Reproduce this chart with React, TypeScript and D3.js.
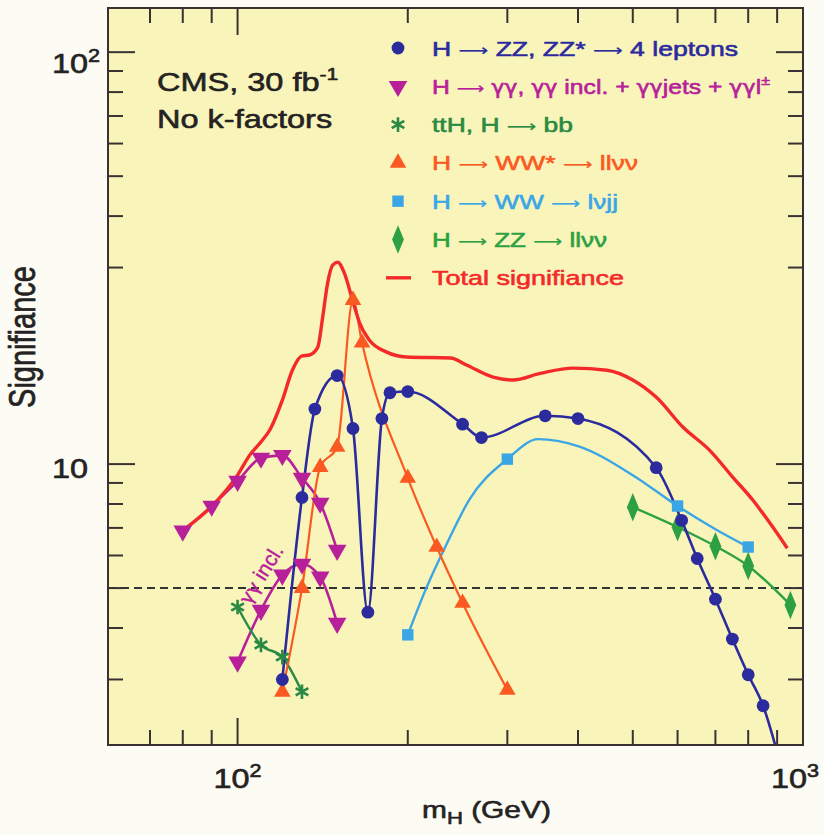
import React from 'react';
import * as d3 from 'd3';

const WIDTH = 824;
const HEIGHT = 835;
const PLOT = { left: 108, right: 803, top: 8, bottom: 745 };

// Axis domains (log-log)
const massDomain: [number, number] = [59, 1000];
const sigDomain: [number, number] = [2.08, 128];

const massMajorTicks = [100, 1000];
const massMinorTicks = [70, 80, 90, 200, 300, 400, 500, 600, 700, 800, 900];
const sigMajorTicks = [10, 100];
const sigMinorTicks = [3, 4, 5, 6, 7, 8, 9, 30, 40, 50, 60, 70, 80, 90];
const discoveryLevel = 5;

// [m_H (GeV), significance]
const zz4l: [number, number][] = [
  [120, 3.0], [130, 8.3], [137, 13.6], [150, 16.4], [160, 12.2], [170, 4.37],
  [180, 12.9], [186, 14.9], [200, 15.0], [250, 12.5], [270, 11.6], [350, 13.1],
  [400, 12.9], [550, 9.8], [610, 7.3], [650, 5.9], [700, 4.7], [750, 3.76],
  [800, 3.08], [850, 2.59], [900, 2.0],
];
const gammaGamma: [number, number][] = [
  [80, 6.88], [90, 7.91], [100, 9.09], [110, 10.34], [120, 10.5], [130, 9.25],
  [140, 8.04], [150, 6.18],
];
const gammaGammaIncl: [number, number][] = [
  [100, 3.31], [110, 4.42], [120, 5.38], [130, 5.72], [140, 5.32], [150, 4.11],
];
const ttHbb: [number, number][] = [
  [100, 4.5], [110, 3.64], [120, 3.4], [130, 2.8],
];
const wwLlvv: [number, number][] = [
  [120, 2.8], [130, 5.0], [140, 9.83], [150, 11.0], [160, 25.0], [166, 19.7],
  [200, 9.25], [225, 6.29], [250, 4.6], [300, 2.83],
];
const wwLvjj: [number, number][] = [
  [200, 3.85], [215, 4.95], [235, 6.45], [257, 8.2], [300, 10.28], [340, 11.5],
  [400, 11.06], [500, 9.4], [600, 7.91], [700, 6.95], [800, 6.29],
];
const wwLvjjMarked = [200, 300, 600, 800];
const zzLlvv: [number, number][] = [
  [500, 7.86], [600, 7.03], [700, 6.32], [800, 5.66], [950, 4.55],
];
const total: [number, number][] = [
  [80, 6.9], [90, 7.9], [100, 9.4], [105, 10.5], [110.7, 11.44], [114, 12.1],
  [120, 14.3], [125, 16.9], [130, 18.3], [134, 18.4], [138.6, 19.2], [141.4, 22.7],
  [144.3, 27.5], [147.3, 30.4], [150.3, 30.9], [154.6, 29.0], [159.7, 25.0],
  [164.4, 22.0], [171, 20.0], [183.5, 18.7], [199, 18.2], [238, 18.1], [254, 17.4],
  [283, 16.26], [307, 16.0], [343, 16.6], [392, 17.1], [450, 16.9], [500, 16.0],
  [551, 14.5], [613, 12.3], [684, 10.8], [751, 9.3], [815, 8.18], [874, 7.19],
  [938, 6.25],
];

const FONT = '"Liberation Sans", Arial, Helvetica, sans-serif';
const SYMBOL_FONT = '"DejaVu Sans", sans-serif';
const SX = 1.3;

const COLORS = {
  bg: '#fcfcf4',
  plot: '#f9f5ba',
  frame: '#3a3232',
  ink: '#242222',
  zz4l: '#2b2b9e',
  gg: '#b8209a',
  tth: '#2a8a44',
  wwllvv: '#fa5a22',
  wwlvjj: '#3aa6e6',
  zzllvv: '#2ea044',
  total: '#f42a2a',
};

type MarkerKind = 'circle' | 'triDown' | 'asterisk' | 'triUp' | 'square' | 'diamond';

function Marker({ kind, cx, cy, color }: { kind: MarkerKind; cx: number; cy: number; color: string }) {
  const t = `translate(${cx},${cy})`;
  switch (kind) {
    case 'circle':
      return <circle cx={cx} cy={cy} r={6.4} fill={color} />;
    case 'triDown':
      return <path transform={`${t} rotate(180)`} d={d3.symbol(d3.symbolTriangle, 150)()!} fill={color} />;
    case 'triUp':
      return <path transform={t} d={d3.symbol(d3.symbolTriangle, 120)()!} fill={color} />;
    case 'asterisk':
      return <path transform={t} d={d3.symbol(d3.symbolAsterisk, 150)()!} fill="none" stroke={color} strokeWidth={2.6} />;
    case 'square':
      return <path transform={t} d={d3.symbol(d3.symbolSquare, 130)()!} fill={color} />;
    case 'diamond':
      return <path transform={`${t} scale(1.0,1.4)`} d={d3.symbol(d3.symbolDiamond, 120)()!} fill={color} />;
  }
}

// Splits a label into runs so arrows and Greek letters use a font with proper glyphs.
function RichText({ text, size }: { text: string; size: number }) {
  const parts: React.ReactNode[] = [];
  let buf = '';
  const flush = (k: number) => {
    if (buf) parts.push(<tspan key={`p${k}`}>{buf}</tspan>);
    buf = '';
  };
  Array.from(text).forEach((ch, k) => {
    if (ch === '→') {
      flush(k);
      parts.push(
        <tspan key={`a${k}`} fontFamily={SYMBOL_FONT} fontSize={size * 0.78} strokeWidth={0.2}>
          {'⟶'}
        </tspan>
      );
    } else if (ch === 'γ') {
      flush(k);
      parts.push(
        <tspan key={`g${k}`} fontFamily={SYMBOL_FONT} fontSize={size * 0.9}>
          {ch}
        </tspan>
      );
    } else if (ch === '±') {
      flush(k);
      parts.push(
        <tspan key={`s${k}`} fontSize={size * 0.65} dy={-size * 0.4}>
          {ch}
        </tspan>
      );
    } else {
      buf += ch;
    }
  });
  flush(9999);
  return <>{parts}</>;
}

// legend rows: marker, colour, label and the run length of each label
const legendRows: { kind: MarkerKind | 'line'; color: string; text: string; width: number }[] = [
  { kind: 'circle', color: COLORS.zz4l, text: 'H → ZZ, ZZ* → 4 leptons', width: 306 },
  { kind: 'triDown', color: COLORS.gg, text: 'H → γγ, γγ incl. + γγjets + γγl±', width: 338 },
  { kind: 'asterisk', color: COLORS.tth, text: 'ttH, H → bb', width: 141 },
  { kind: 'triUp', color: COLORS.wwllvv, text: 'H → WW* → llνν', width: 206 },
  { kind: 'square', color: COLORS.wwlvjj, text: 'H → WW → lνjj', width: 186 },
  { kind: 'diamond', color: COLORS.zzllvv, text: 'H → ZZ → llνν', width: 175 },
  { kind: 'line', color: COLORS.total, text: 'Total signifiance', width: 192 },
];

export default function App() {
  const x = d3.scaleLog().domain(massDomain).range([PLOT.left, PLOT.right]);
  const y = d3.scaleLog().domain(sigDomain).range([PLOT.bottom, PLOT.top]);
  const line = d3
    .line<[number, number]>()
    .x((d) => x(d[0]))
    .y((d) => y(d[1]))
    .curve(d3.curveMonotoneX);

  const series: { data: [number, number][]; color: string; width: number; kind: MarkerKind; marked?: number[] }[] = [
    { data: gammaGamma, color: COLORS.gg, width: 2.6, kind: 'triDown' },
    { data: gammaGammaIncl, color: COLORS.gg, width: 2.6, kind: 'triDown' },
    { data: ttHbb, color: COLORS.tth, width: 2.4, kind: 'asterisk' },
    { data: wwLvjj, color: COLORS.wwlvjj, width: 2.4, kind: 'square', marked: wwLvjjMarked },
    { data: zzLlvv, color: COLORS.zzllvv, width: 2.4, kind: 'diamond' },
    { data: wwLlvv, color: COLORS.wwllvv, width: 2.2, kind: 'triUp' },
    { data: zz4l, color: COLORS.zz4l, width: 2.6, kind: 'circle' },
  ];

  const majorLen = 27;
  const minorLen = 15;

  const legendX = 398;
  const legendTextX = 432;
  const legendY0 = 48;
  const legendDy = 38.3;

  const textStroke = { strokeWidth: 0.6, strokeLinejoin: 'round' as const };

  return (
    <div style={{ position: 'fixed', left: 0, top: 0, width: WIDTH, height: HEIGHT, background: COLORS.bg }}>
      <svg width={WIDTH} height={HEIGHT} style={{ display: 'block', fontFamily: FONT }}>
        <defs>
          <clipPath id="plot-clip">
            <rect x={PLOT.left} y={PLOT.top} width={PLOT.right - PLOT.left} height={PLOT.bottom - PLOT.top} />
          </clipPath>
        </defs>
        <rect x={0} y={0} width={WIDTH} height={HEIGHT} fill={COLORS.bg} />
        <rect
          x={PLOT.left}
          y={PLOT.top}
          width={PLOT.right - PLOT.left}
          height={PLOT.bottom - PLOT.top}
          fill={COLORS.plot}
        />

        {/* 5 sigma reference */}
        <line
          x1={PLOT.left}
          x2={PLOT.right}
          y1={y(discoveryLevel)}
          y2={y(discoveryLevel)}
          stroke="#333"
          strokeWidth={2}
          strokeDasharray="8,5"
        />

        <g clipPath="url(#plot-clip)">
          {series.map((s, i) => (
            <path key={i} d={line(s.data)!} fill="none" stroke={s.color} strokeWidth={s.width} strokeLinejoin="round" />
          ))}
          <path d={line(total)!} fill="none" stroke={COLORS.total} strokeWidth={3.4} strokeLinejoin="round" />
          {series.map((s, i) =>
            s.data
              .filter((d) => !s.marked || s.marked.includes(d[0]))
              .map((d, j) => <Marker key={`${i}-${j}`} kind={s.kind} cx={x(d[0])} cy={y(d[1])} color={s.color} />)
          )}
        </g>

        {/* ticks on all four sides, pointing inward */}
        <g stroke={COLORS.frame} strokeWidth={2}>
          {[...massMajorTicks.map((v) => [v, majorLen]), ...massMinorTicks.map((v) => [v, minorLen])].map(([v, len], i) => (
            <g key={`xt${i}`}>
              <line x1={x(v)} x2={x(v)} y1={PLOT.bottom} y2={PLOT.bottom - len} />
              <line x1={x(v)} x2={x(v)} y1={PLOT.top} y2={PLOT.top + len} />
            </g>
          ))}
          {[...sigMajorTicks.map((v) => [v, majorLen]), ...sigMinorTicks.map((v) => [v, minorLen])].map(([v, len], i) => (
            <g key={`yt${i}`}>
              <line x1={PLOT.left} x2={PLOT.left + len} y1={y(v)} y2={y(v)} />
              <line x1={PLOT.right} x2={PLOT.right - len} y1={y(v)} y2={y(v)} />
            </g>
          ))}
        </g>
        <rect
          x={PLOT.left}
          y={PLOT.top}
          width={PLOT.right - PLOT.left}
          height={PLOT.bottom - PLOT.top}
          fill="none"
          stroke={COLORS.frame}
          strokeWidth={2}
        />

        {/* tick labels */}
        <g fill={COLORS.ink} stroke={COLORS.ink} {...textStroke} fontSize={27}>
          {massMajorTicks.map((v) => (
            <g key={`xl${v}`} transform={`translate(${x(v) - (v >= 1000 ? 8 : 0)},788) scale(1.2,1)`}>
              <text textAnchor="middle">
                10<tspan fontSize={18} dy={-11}>{Math.round(Math.log10(v))}</tspan>
              </text>
            </g>
          ))}
          {sigMajorTicks.map((v) => (
            <g key={`yl${v}`} transform={`translate(${v === 10 ? 88 : 100},${y(v) + (v === 10 ? 14 : 21)}) scale(1.2,1)`}>
              <text textAnchor="end">
                {v === 10 ? '10' : (
                  <>
                    10<tspan fontSize={18} dy={-11}>2</tspan>
                  </>
                )}
              </text>
            </g>
          ))}
        </g>

        {/* axis titles */}
        <g transform={`translate(422,818) scale(${SX},1)`} fill={COLORS.ink} stroke={COLORS.ink} {...textStroke}>
          <text fontSize={23}>
            m<tspan fontSize={17} dy={6}>H</tspan>
            <tspan dy={-6}> (GeV)</tspan>
          </text>
        </g>
        <g transform="translate(35,337) scale(1.25,1) rotate(-90)" fill={COLORS.ink} stroke={COLORS.ink} {...textStroke}>
          <text fontSize={29} textAnchor="middle">Signifiance</text>
        </g>

        {/* annotation */}
        <g transform={`translate(157,91) scale(1.25,1)`} fill={COLORS.ink} stroke={COLORS.ink} {...textStroke}>
          <text fontSize={26}>
            CMS, 30 fb<tspan fontSize={17} dy={-11}>-1</tspan>
          </text>
        </g>
        <g transform={`translate(157,128) scale(1.25,1)`} fill={COLORS.ink} stroke={COLORS.ink} {...textStroke}>
          <text fontSize={26}>No k-factors</text>
        </g>

        <g transform={`translate(${x(110)},${y(5.4)}) rotate(-58)`} fill={COLORS.gg} stroke={COLORS.gg} strokeWidth={0.4}>
          <text fontSize={21} textAnchor="middle" dy={7}>
            <RichText text="γγ incl." size={21} />
          </text>
        </g>

        {/* legend */}
        {legendRows.map((r, i) => {
          const cy = legendY0 + i * legendDy;
          return (
            <g key={`lg${i}`}>
              {r.kind === 'line' ? (
                <line x1={legendX - 12} x2={legendX + 13} y1={cy} y2={cy} stroke={r.color} strokeWidth={3.4} />
              ) : (
                <Marker kind={r.kind} cx={legendX} cy={cy} color={r.color} />
              )}
              <text
                x={legendTextX}
                y={cy + 7.5}
                fontSize={21}
                textLength={r.width}
                lengthAdjust="spacingAndGlyphs"
                fill={r.color}
                stroke={r.color}
                {...textStroke}
              >
                <RichText text={r.text} size={21} />
              </text>
            </g>
          );
        })}
      </svg>
    </div>
  );
}
